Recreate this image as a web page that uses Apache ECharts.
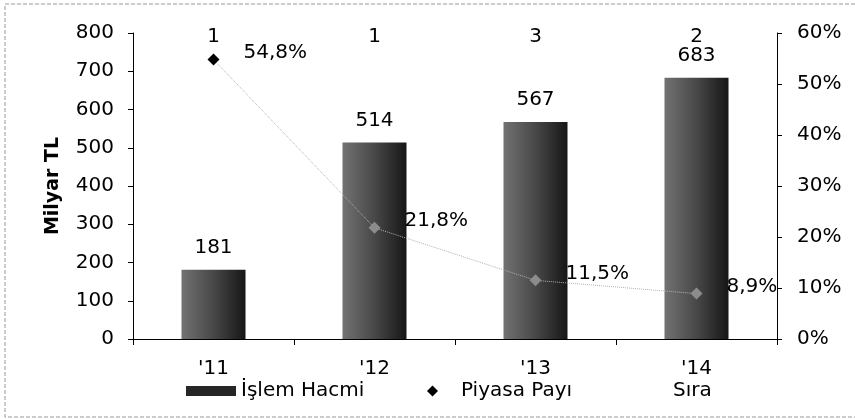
<!DOCTYPE html>
<html>
<head>
<meta charset="utf-8">
<script src="https://cdn.jsdelivr.net/npm/echarts@6/dist/echarts.min.js"></script>
<style>
  html, body { margin: 0; padding: 0; background: #fff; }
  #chart { width: 855px; height: 419px; }
</style>
</head>
<body>
<div id="chart"></div>
<script>
// veriler
const years = ["'11", "'12", "'13", "'14"];
const islemHacmi = [181, 514, 567, 683];      // Milyar TL
const piyasaPayi = [54.8, 21.8, 11.5, 8.9];   // %
const sira = [1, 1, 3, 2];

const FONT = 'DejaVu Sans';
const txt = { fontFamily: FONT, fontSize: 20, color: '#000' };

const chart = echarts.init(document.getElementById('chart'));

chart.setOption({
  animation: false,
  textStyle: { fontFamily: FONT },
  graphic: [{
    type: 'rect',
    shape: { x: 5, y: 4, width: 880, height: 413 },
    style: { fill: 'none', stroke: '#999', lineWidth: 1, lineDash: [4, 2] },
    silent: true
  }],
  grid: { left: 133, right: 78, top: 33, bottom: 80 },
  // lejant: her öğe ayrı konumlanıyor
  legend: [
    {
      left: 181, top: 376,
      itemWidth: 50, itemHeight: 10,
      textStyle: txt,
      data: [{ name: 'İşlem Hacmi', icon: 'rect', itemStyle: { color: '#262626' } }]
    },
    {
      left: 422, top: 376,
      itemWidth: 11, itemHeight: 11,
      textStyle: Object.assign({ padding: [0, 0, 0, 18] }, txt),
      data: [{ name: 'Piyasa Payı', icon: 'diamond', itemStyle: { color: '#000' } }]
    },
    {
      left: 662, top: 376,
      itemWidth: 1, itemHeight: 10,
      textStyle: txt,
      data: [{ name: 'Sıra', icon: 'rect', itemStyle: { color: 'rgba(0,0,0,0)' } }]
    }
  ],
  xAxis: [
    {
      type: 'category',
      data: years,
      axisLine: { lineStyle: { color: '#000', width: 1 } },
      axisTick: { show: true, length: 6, lineStyle: { color: '#000' } },
      axisLabel: Object.assign({ margin: 20 }, txt)
    },
    {
      // Sıra değerleri üstte
      type: 'category',
      position: 'top',
      data: sira.map(String),
      axisLine: { show: false },
      axisTick: { show: false },
      axisLabel: Object.assign({ margin: -14 }, txt)
    }
  ],
  yAxis: [
    {
      type: 'value',
      min: 0, max: 800, interval: 100,
      name: 'Milyar TL',
      nameLocation: 'middle',
      nameGap: 70,
      nameTextStyle: { fontFamily: FONT, fontSize: 19, fontWeight: 'bold', color: '#000' },
      axisLine: { show: true, lineStyle: { color: '#000' } },
      axisTick: { show: true, length: 5, lineStyle: { color: '#000' } },
      axisLabel: Object.assign({ margin: 19 }, txt),
      splitLine: { show: false }
    },
    {
      type: 'value',
      min: 0, max: 60, interval: 10,
      position: 'right',
      axisLine: { show: true, lineStyle: { color: '#000' } },
      axisTick: { show: true, length: 5, lineStyle: { color: '#000' } },
      axisLabel: Object.assign({ margin: 20, formatter: '{value}%' }, txt),
      splitLine: { show: false }
    }
  ],
  series: [
    {
      name: 'İşlem Hacmi',
      type: 'bar',
      barWidth: 64,
      data: islemHacmi,
      itemStyle: {
        color: new echarts.graphic.LinearGradient(0, 0, 1, 0, [
          { offset: 0, color: '#727272' },
          { offset: 0.5, color: '#484848' },
          { offset: 1, color: '#161616' }
        ])
      },
      label: Object.assign({ show: true, position: 'top', distance: 12 }, txt)
    },
    {
      name: 'Piyasa Payı',
      type: 'line',
      yAxisIndex: 1,
      data: piyasaPayi,
      symbol: 'diamond',
      symbolSize: 12,
      lineStyle: { color: '#b0b0b0', width: 1, type: 'dotted' },
      itemStyle: {
        color: (p) => (p.dataIndex === 0 ? '#000' : '#8c8c8c')
      },
      label: Object.assign({
        show: true,
        position: 'right',
        distance: 24,
        offset: [0, -7],
        formatter: (p) => p.value.toFixed(1).replace('.', ',') + '%'
      }, txt),
      z: 3
    },
    {
      name: 'Sıra',
      type: 'scatter',
      data: []
    }
  ]
});
</script>
</body>
</html>
